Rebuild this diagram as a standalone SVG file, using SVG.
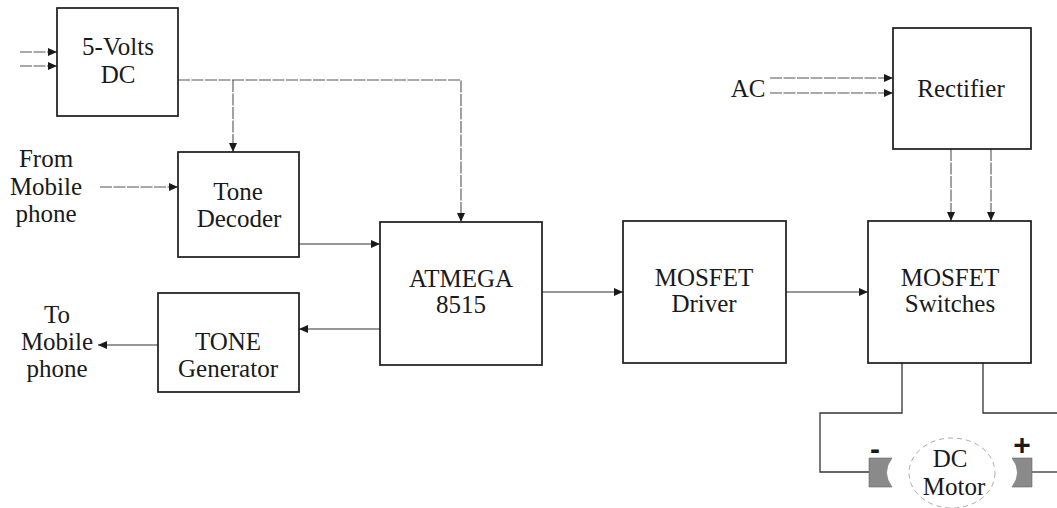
<svg xmlns="http://www.w3.org/2000/svg" width="1057" height="508" viewBox="0 0 1057 508">
<style>
.box{fill:#fff;stroke:#1a1a1a;stroke-width:1.7}
.t{font-family:"Liberation Serif","Times New Roman",serif;font-size:25px;fill:#1a1a1a;text-anchor:middle}
.c{fill:none;stroke:#333;stroke-width:1.1}
.d{fill:none;stroke:#555;stroke-width:1.1;stroke-dasharray:12 1.5}
.w{fill:none;stroke:#333;stroke-width:1.3}
.brush{fill:#8a8a8a;stroke:#666;stroke-width:0.6}
.sign{font-family:"Liberation Sans",Arial,sans-serif;font-size:30px;font-weight:bold;fill:#1a1a1a;text-anchor:middle}
</style>
<defs>
<marker id="ah" markerWidth="10" markerHeight="8" refX="9" refY="4" orient="auto" markerUnits="userSpaceOnUse">
<path d="M0,0 L9,4 L0,8 Z" fill="#1a1a1a"/>
</marker>
</defs>
<rect width="1057" height="508" fill="#fff"/>
<g id="connectors">
<path class="d" d="M20,52 H57" marker-end="url(#ah)"/>
<path class="d" d="M20,66 H57" marker-end="url(#ah)"/>
<path class="d" d="M178,80 H461 V222" marker-end="url(#ah)"/>
<path class="d" d="M233,80 V152" marker-end="url(#ah)"/>
<path class="d" d="M100,187 H178" marker-end="url(#ah)"/>
<path class="c" d="M299,244 H380" marker-end="url(#ah)"/>
<path class="c" d="M380,329 H299" marker-end="url(#ah)"/>
<path class="c" d="M158,345 H98" marker-end="url(#ah)"/>
<path class="c" d="M542,292 H623" marker-end="url(#ah)"/>
<path class="c" d="M786,292 H868" marker-end="url(#ah)"/>
<path class="d" d="M770,78 H893" marker-end="url(#ah)"/>
<path class="d" d="M770,93 H893" marker-end="url(#ah)"/>
<path class="d" d="M951,149 V221" marker-end="url(#ah)"/>
<path class="d" d="M991,149 V221" marker-end="url(#ah)"/>
<path class="w" d="M902,363 V413 H820 V472 H869"/>
<path class="w" d="M983,363 V413 H1057"/>
<path class="w" d="M1032,472 H1057"/>
</g>
<g id="dc5v">
<rect class="box" x="57" y="8" width="121" height="108"/>
<text class="t" x="118" y="55">5-Volts</text>
<text class="t" x="118" y="83">DC</text>
</g>
<g id="from-mobile">
<text class="t" x="46" y="167">From</text>
<text class="t" x="46" y="195">Mobile</text>
<text class="t" x="46" y="222">phone</text>
</g>
<g id="tone-decoder">
<rect class="box" x="178" y="152" width="121" height="105"/>
<text class="t" x="238" y="200">Tone</text>
<text class="t" x="239" y="227">Decoder</text>
</g>
<g id="to-mobile">
<text class="t" x="57" y="323">To</text>
<text class="t" x="57" y="350">Mobile</text>
<text class="t" x="57" y="377">phone</text>
</g>
<g id="tone-generator">
<rect class="box" x="158" y="293" width="141" height="99"/>
<text class="t" x="228" y="350">TONE</text>
<text class="t" x="228" y="377">Generator</text>
</g>
<g id="atmega">
<rect class="box" x="380" y="222" width="162" height="143"/>
<text class="t" x="461" y="287">ATMEGA</text>
<text class="t" x="461" y="313">8515</text>
</g>
<g id="mosfet-driver">
<rect class="box" x="623" y="221" width="163" height="142"/>
<text class="t" x="704" y="286">MOSFET</text>
<text class="t" x="704" y="312">Driver</text>
</g>
<g id="ac">
<text class="t" x="748" y="97">AC</text>
</g>
<g id="rectifier">
<rect class="box" x="893" y="28" width="138" height="121"/>
<text class="t" x="961" y="97">Rectifier</text>
</g>
<g id="mosfet-switches">
<rect class="box" x="868" y="221" width="163" height="142"/>
<text class="t" x="950" y="286">MOSFET</text>
<text class="t" x="950" y="312">Switches</text>
</g>
<g id="dc-motor">
<ellipse cx="952" cy="473" rx="43" ry="35" fill="none" stroke="#aaa" stroke-width="1" stroke-dasharray="5 4"/>
<path class="brush" d="M869,458 H892 Q881,472.5 892,487 H869 Z"/>
<path class="brush" d="M1012,458 H1032 V487 H1012 Q1023,472.5 1012,458 Z"/>
<text class="sign" x="875" y="459">-</text>
<text class="sign" x="1022" y="455">+</text>
<text class="t" x="950" y="467">DC</text>
<text class="t" x="954" y="495">Motor</text>
</g>
</svg>
